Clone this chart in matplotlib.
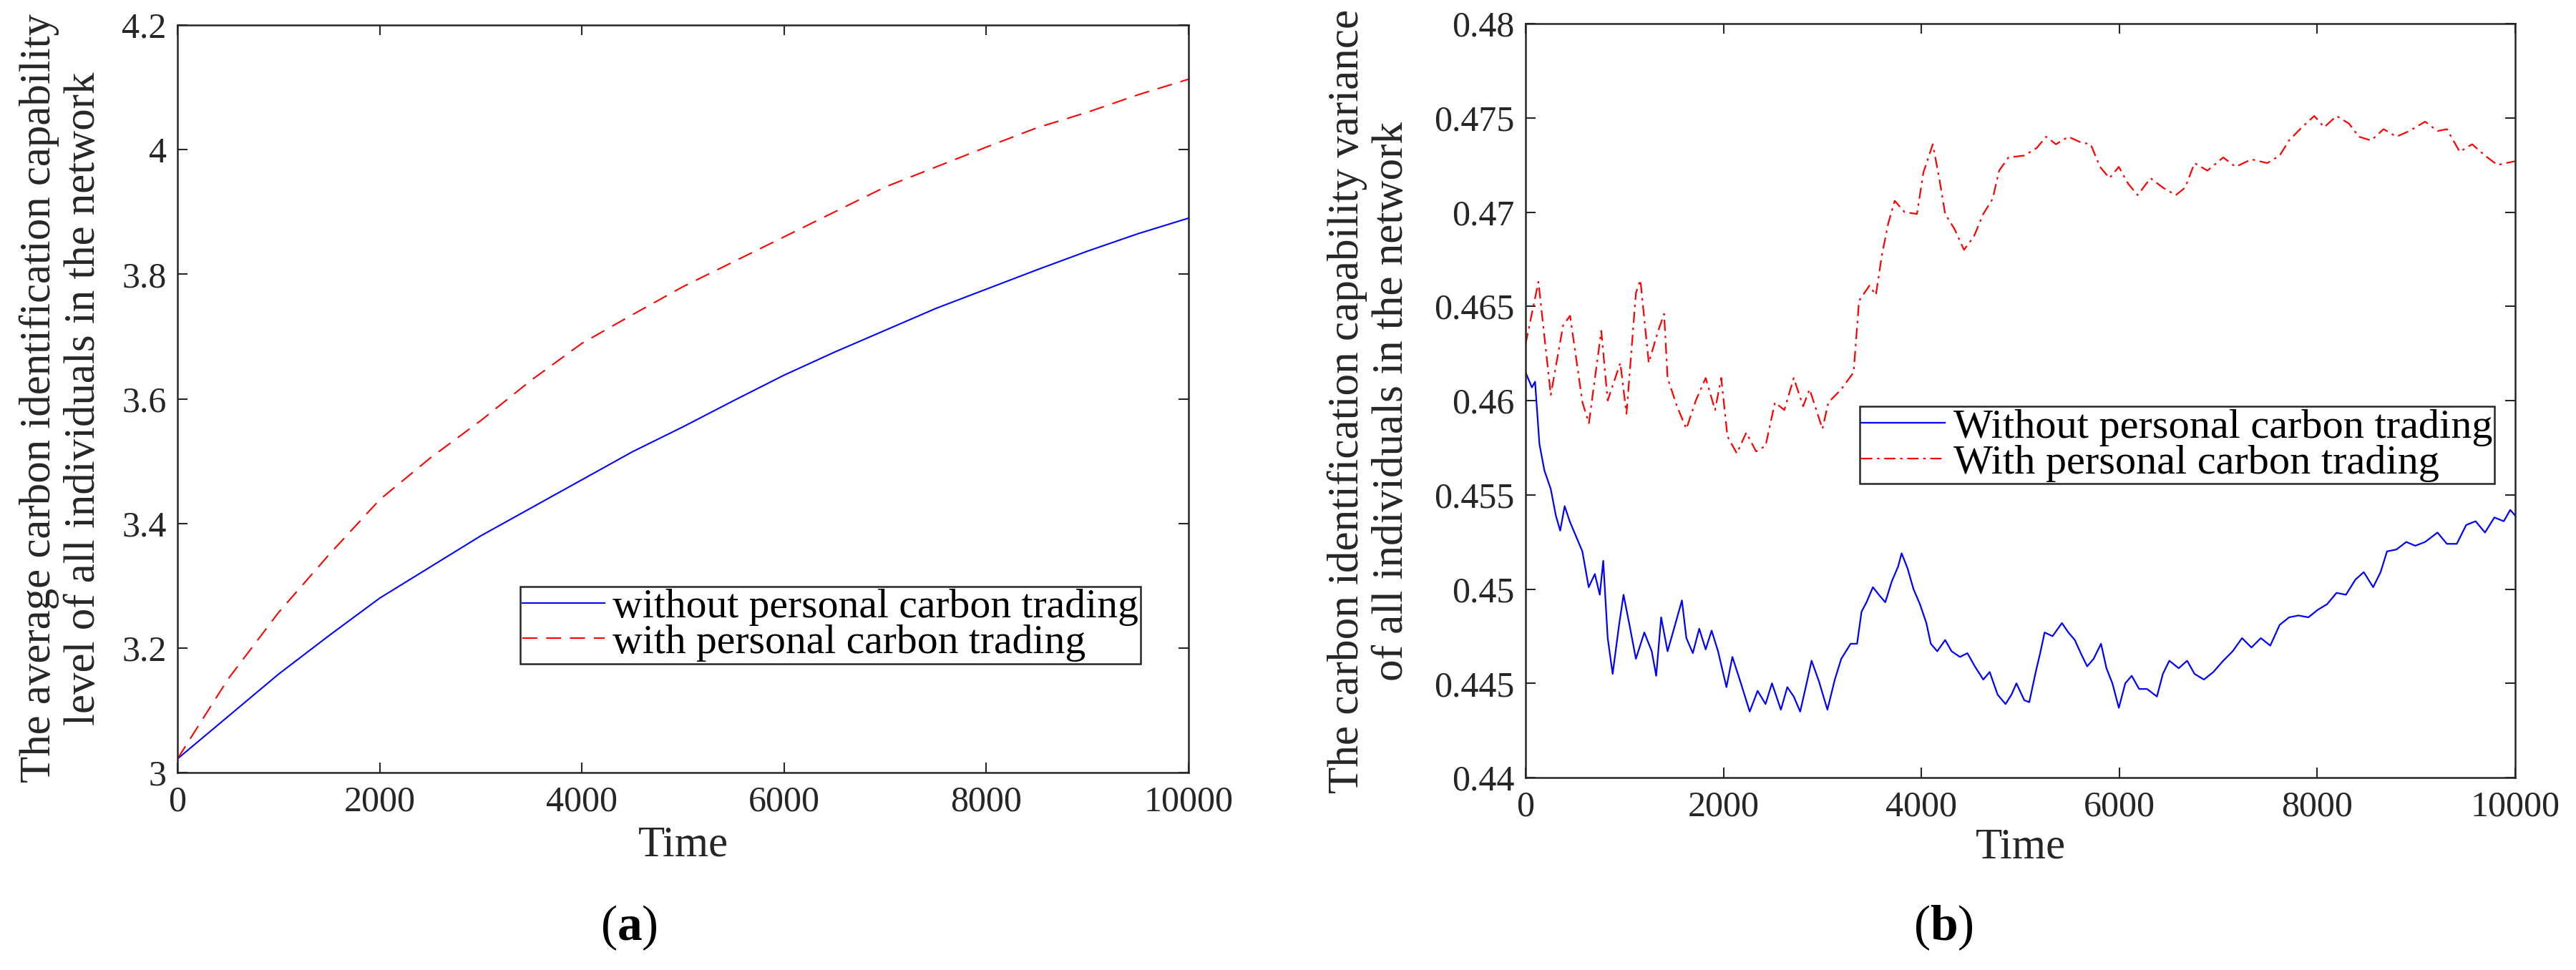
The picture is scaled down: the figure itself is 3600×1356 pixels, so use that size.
import matplotlib
matplotlib.use("Agg")
import matplotlib.pyplot as plt
from matplotlib.ticker import FixedLocator, FuncFormatter

plt.rcParams['font.family'] = ['Liberation Serif', 'DejaVu Serif']
plt.rcParams['font.serif'] = ['Liberation Serif', 'DejaVu Serif']
plt.rcParams['mathtext.fontset'] = 'custom'
plt.rcParams['mathtext.rm'] = 'Liberation Serif'
plt.rcParams['mathtext.bf'] = 'Liberation Serif:bold'

# ---------------- data: panel (a) ----------------
time_a = [0, 500, 1000, 1500, 2000, 2500, 3000, 3500, 4000, 4500, 5000,
          5500, 6000, 6500, 7000, 7500, 8000, 8500, 9000, 9500, 10000]
avg_without = [3.022, 3.090, 3.158, 3.220, 3.280, 3.330, 3.380, 3.425, 3.470, 3.515, 3.555,
               3.597, 3.638, 3.675, 3.710, 3.745, 3.776, 3.807, 3.837, 3.865, 3.890]
avg_with = [3.022, 3.150, 3.257, 3.350, 3.438, 3.505, 3.565, 3.630, 3.689, 3.735, 3.780,
            3.820, 3.860, 3.900, 3.940, 3.972, 4.004, 4.035, 4.060, 4.088, 4.113]

# ---------------- data: panel (b) ----------------
time_b_without = [0, 64, 96, 140, 190, 255, 306, 350, 395, 446,
                  510, 574, 638, 700, 750, 785, 830, 880, 945, 990,
                  1050, 1115, 1200, 1275, 1320, 1370, 1435, 1500, 1580, 1625,
                  1690, 1755, 1820, 1880, 1945, 2030, 2090, 2170, 2265, 2345,
                  2425, 2490, 2580, 2645, 2710, 2775, 2840, 2890, 2965, 3050,
                  3125, 3190, 3285, 3350, 3395, 3445, 3510, 3570, 3635, 3700,
                  3765, 3800, 3860, 3920, 3985, 4050, 4095, 4160, 4240, 4305,
                  4390, 4465, 4540, 4625, 4690, 4770, 4850, 4910, 4960, 5040,
                  5090, 5155, 5200, 5245, 5325, 5420, 5485, 5550, 5610, 5675,
                  5740, 5815, 5870, 5930, 5995, 6060, 6125, 6200, 6280, 6380,
                  6440, 6505, 6600, 6685, 6760, 6855, 6950, 7050, 7145, 7240,
                  7335, 7430, 7525, 7620, 7715, 7810, 7910, 8005, 8100, 8195,
                  8290, 8385, 8470, 8565, 8640, 8705, 8800, 8900, 8990, 9090,
                  9215, 9310, 9410, 9505, 9600, 9695, 9790, 9885, 9950, 10000]
var_without = [0.4615, 0.4607, 0.4610, 0.4577, 0.4563, 0.4553, 0.4539, 0.4531, 0.4544, 0.4536,
               0.4528, 0.4520, 0.4501, 0.4508, 0.4497, 0.4515, 0.4474, 0.4455, 0.4481, 0.4497,
               0.4481, 0.4463, 0.4477, 0.4467, 0.4454, 0.4485, 0.4467, 0.4479, 0.4494, 0.4474,
               0.4466, 0.4479, 0.4468, 0.4478, 0.4467, 0.4448, 0.4464, 0.4451, 0.4435, 0.4446,
               0.4439, 0.4450, 0.4436, 0.4448, 0.4443, 0.4435, 0.4450, 0.4462, 0.4451, 0.4436,
               0.4452, 0.4463, 0.4471, 0.4471, 0.4488, 0.4493, 0.4501, 0.4497, 0.4493, 0.4504,
               0.4512, 0.4519, 0.4511, 0.4500, 0.4492, 0.4482, 0.4471, 0.4467, 0.4473, 0.4467,
               0.4464, 0.4466, 0.4459, 0.4452, 0.4456, 0.4444, 0.4439, 0.4444, 0.4450, 0.4441,
               0.4440, 0.4456, 0.4466, 0.4477, 0.4475, 0.4482, 0.4477, 0.4473, 0.4466, 0.4459,
               0.4463, 0.4471, 0.4458, 0.4450, 0.4437, 0.4450, 0.4454, 0.4447, 0.4447, 0.4443,
               0.4455, 0.4462, 0.4458, 0.4462, 0.4455, 0.4452, 0.4456, 0.4462, 0.4467, 0.4474,
               0.4469, 0.4474, 0.4470, 0.4481, 0.4485, 0.4486, 0.4485, 0.4489, 0.4492, 0.4498,
               0.4497, 0.4505, 0.4509, 0.4501, 0.4509, 0.4520, 0.4521, 0.4525, 0.4523, 0.4525,
               0.4530, 0.4524, 0.4524, 0.4534, 0.4536, 0.4530, 0.4538, 0.4536, 0.4542, 0.4539]

time_b_with = [0, 130, 255, 380, 450, 575, 640, 765, 830, 957,
               1020, 1115, 1160, 1245, 1340, 1400, 1435, 1530, 1625, 1720,
               1820, 1915, 1977, 2040, 2135, 2230, 2330, 2425, 2520, 2615,
               2710, 2805, 2870, 3000, 3060, 3190, 3315, 3370, 3475, 3540,
               3600, 3665, 3730, 3830, 3955, 4020, 4115, 4180, 4240, 4335,
               4430, 4530, 4625, 4720, 4785, 4880, 5040, 5165, 5260, 5360,
               5485, 5610, 5710, 5805, 5900, 5995, 6090, 6185, 6315, 6440,
               6570, 6665, 6760, 6890, 7050, 7175, 7335, 7495, 7620, 7715,
               7845, 7970, 8070, 8195, 8320, 8420, 8545, 8670, 8800, 8930,
               9090, 9215, 9310, 9440, 9565, 9695, 9820, 10000]
var_with = [0.4630, 0.4663, 0.4603, 0.4640, 0.4645, 0.4599, 0.4588, 0.4637, 0.4600, 0.4620,
            0.4593, 0.4657, 0.4664, 0.4620, 0.4637, 0.4646, 0.4612, 0.4597, 0.4585, 0.4600,
            0.4612, 0.4595, 0.4612, 0.4581, 0.4572, 0.4583, 0.4573, 0.4576, 0.4599, 0.4595,
            0.4612, 0.4597, 0.4606, 0.4585, 0.4599, 0.4606, 0.4615, 0.4653, 0.4661, 0.4656,
            0.4677, 0.4694, 0.4706, 0.4700, 0.4699, 0.4721, 0.4736, 0.4718, 0.4699, 0.4691,
            0.4680, 0.4687, 0.4699, 0.4707, 0.4722, 0.4729, 0.4730, 0.4734, 0.4740, 0.4736,
            0.4740, 0.4737, 0.4736, 0.4724, 0.4718, 0.4724, 0.4715, 0.4709, 0.4718, 0.4713,
            0.4709, 0.4713, 0.4726, 0.4722, 0.4729, 0.4724, 0.4728, 0.4726, 0.4730, 0.4738,
            0.4745, 0.4751, 0.4745, 0.4751, 0.4747, 0.4740, 0.4738, 0.4744, 0.4740, 0.4743,
            0.4748, 0.4743, 0.4744, 0.4732, 0.4736, 0.4730, 0.4725, 0.4727]

xticks = [0, 2000, 4000, 6000, 8000, 10000]
yticks_a = [3, 3.2, 3.4, 3.6, 3.8, 4, 4.2]
yticks_b = [0.44, 0.445, 0.45, 0.455, 0.46, 0.465, 0.47, 0.475, 0.48]

labels_a = ['without personal carbon trading', 'with personal carbon trading']
labels_b = ['Without personal carbon trading', 'With personal carbon trading']
ylabel_a = 'The average carbon identification capability\nlevel of all individuals in the network'
ylabel_b = 'The carbon identification capability variance\nof all individuals in the network'

# ---------------- figure ----------------
W, H = 3600, 1356
fig = plt.figure(figsize=(W / 100, H / 100), dpi=100)
axcol = '0.15'
FONT = 'Liberation Serif'

def px_axes(l, t, r, b):
    return fig.add_axes([l / W, 1 - b / H, (r - l) / W, (b - t) / H])

ax_a = px_axes(248, 35, 1661, 1080)
ax_b = px_axes(2132, 33, 3515, 1087)

ax_a.plot(time_a, avg_without, color=(0, 0, 1), lw=1.5, label=labels_a[0])
ax_a.plot(time_a, avg_with, color=(1, 0, 0), lw=1.5, dashes=(10, 6), label=labels_a[1])
ax_b.plot(time_b_without, var_without, color=(0, 0, 1), lw=1.6, label=labels_b[0])
ax_b.plot(time_b_with, var_with, color=(1, 0, 0), lw=1.6, dashes=(7, 3, 1.5, 3), label=labels_b[1])

fmt = FuncFormatter(lambda v, p: ('%g' % round(v, 4)))
for ax, yt in ((ax_a, yticks_a), (ax_b, yticks_b)):
    ax.set_xlim(0, 10000)
    ax.set_ylim(yt[0], yt[-1])
    ax.xaxis.set_major_locator(FixedLocator(xticks))
    ax.yaxis.set_major_locator(FixedLocator(yt))
    ax.xaxis.set_major_formatter(fmt)
    ax.yaxis.set_major_formatter(fmt)
    ax.tick_params(direction='in', length=10, width=1.5, colors=axcol,
                   labelsize=36, top=True, right=True, labelcolor=axcol,
                   labelfontfamily=FONT)
    ax.tick_params(axis='x', pad=13)
    ax.tick_params(axis='y', pad=11)
    for s in ax.spines.values():
        s.set_linewidth(1.8)
        s.set_color(axcol)

renderer = fig.canvas.get_renderer()

def fit_text(t, target, axis):
    """scale the font so the text's extent matches the reference extent in px"""
    for _ in range(3):
        bb = t.get_window_extent(renderer)
        cur = bb.height if axis == 'h' else bb.width
        t.set_fontsize(t.get_fontsize() * target / cur)

# axis labels
ta = fig.text((248 + 1661) / 2 / W, 1 - 1182 / H, 'Time', fontsize=42, color=axcol,
              family=FONT, ha='center', va='center')
tb = fig.text((2132 + 3515) / 2 / W, 1 - 1185 / H, 'Time', fontsize=42, color=axcol,
              family=FONT, ha='center', va='center')
ya = fig.text(86 / W, 1 - 557 / H, ylabel_a, fontsize=42, color=axcol, rotation=90,
              family=FONT, ha='center', va='center', multialignment='center', linespacing=1.15)
yb = fig.text(1914 / W, 1 - 561 / H, ylabel_b, fontsize=42, color=axcol, rotation=90,
              family=FONT, ha='center', va='center', multialignment='center', linespacing=1.15)
fit_text(ya, 1075, 'h')
fit_text(yb, 1095, 'h')
fit_text(ta, 126, 'w')
tb.set_fontsize(ta.get_fontsize())

# legends, sized to the reference legend widths
def make_legend(ax, anchor, size):
    lg = ax.legend(loc='upper right', bbox_to_anchor=anchor,
                   prop={'family': FONT, 'size': size}, frameon=True, fancybox=False,
                   framealpha=1, edgecolor='0.15', handlelength=2.0, handletextpad=0.2,
                   labelspacing=-0.05, borderpad=0.05, borderaxespad=0)
    lg.get_frame().set_linewidth(1.8)
    return lg

size_a = 38.0
for _ in range(3):
    la = make_legend(ax_a, (0.9526, 0.2488), size_a)
    w = la.get_window_extent(renderer).width
    size_a *= 867 / w
la = make_legend(ax_a, (0.9526, 0.2488), size_a)
size_b = 38.0
for _ in range(3):
    lb = make_legend(ax_b, (0.979, 0.4924), size_b)
    w = lb.get_window_extent(renderer).width
    size_b *= 887 / w
lb = make_legend(ax_b, (0.979, 0.4924), size_b)

# panel captions
fig.text(879 / W, 1 - 1297 / H, r'($\mathbf{a}$)', fontsize=50, color='black',
         ha='center', va='center')
fig.text(2716 / W, 1 - 1297 / H, r'($\mathbf{b}$)', fontsize=50, color='black',
         ha='center', va='center')

fig.savefig('out.png', dpi=100, facecolor='white')
